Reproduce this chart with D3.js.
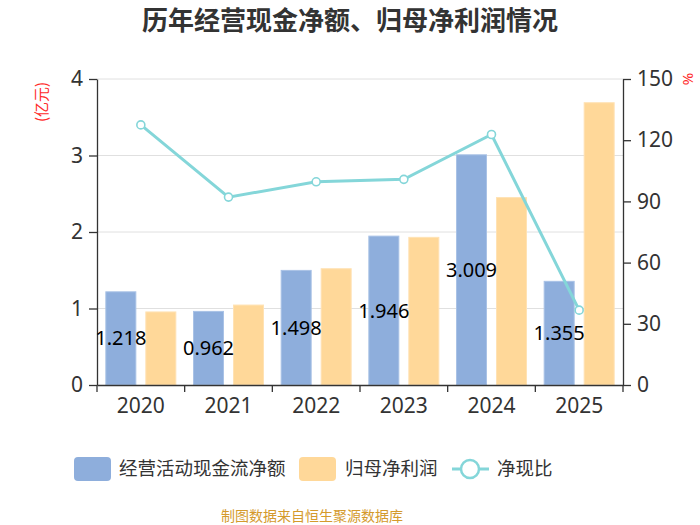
<!DOCTYPE html>
<html>
<head>
<meta charset="utf-8">
<script src="https://cdn.jsdelivr.net/npm/d3@7"></script>
<style>
  body { margin: 0; background: #fff; }
  svg { display: block; font-family: "Noto Sans", "Noto Sans CJK SC", sans-serif; }
</style>
</head>
<body>
<div id="chart"></div>
<script>
// data
var years = ['2020', '2021', '2022', '2023', '2024', '2025']
var cashFlow = [1.218, 0.962, 1.498, 1.946, 3.009, 1.355]   // 经营活动现金流净额 (亿元)
var netProfit = [0.955, 1.045, 1.52, 1.93, 2.45, 3.69]      // 归母净利润 (亿元)
var ratio = [127.5, 92.1, 99.6, 100.8, 122.8, 36.7]         // 净现比 (%)
var leftTicks = [0, 1, 2, 3, 4]
var rightTicks = [0, 30, 60, 90, 120, 150]

var W = 700, H = 525
var margin = { top: 79, right: 77, bottom: 140, left: 97 }
var width = W - margin.left - margin.right,
    height = H - margin.top - margin.bottom

var blue = '#8eaedc', orange = '#ffd899', teal = '#84d6d9'
var font = '"Noto Sans", "Noto Sans CJK SC", sans-serif'

var svg = d3.select('#chart').append('svg')
  .attr('width', W).attr('height', H)

svg.append('text')
  .attr('x', W / 2).attr('y', 30)
  .attr('text-anchor', 'middle')
  .attr('font-family', '"Noto Sans CJK SC", sans-serif')
  .attr('font-size', 26).attr('font-weight', 'bold')
  .attr('fill', '#333')
  .text('历年经营现金净额、归母净利润情况')

var g = svg.append('g')
  .attr('transform', 'translate(' + margin.left + ',' + margin.top + ')')

var x = d3.scaleBand().domain(years).range([0, width])
var y = d3.scaleLinear().domain([0, 4]).range([height, 0])
var y2 = d3.scaleLinear().domain([0, 150]).range([height, 0])

var barW = 30, barGap = 10

// grid
g.selectAll('.grid').data(leftTicks.slice(1)).enter().append('line')
  .attr('x1', 0).attr('x2', width)
  .attr('y1', function(d) { return y(d) }).attr('y2', function(d) { return y(d) })
  .attr('stroke', '#e0e0e0').attr('stroke-width', 1)

// bars
g.selectAll('.bar1').data(cashFlow).enter().append('rect')
  .attr('x', function(d, i) { return x(years[i]) + x.bandwidth() / 2 - barGap / 2 - barW })
  .attr('y', function(d) { return y(d) })
  .attr('width', barW)
  .attr('height', function(d) { return height - y(d) })
  .attr('fill', blue).attr('stroke', '#a9c2e6').attr('stroke-width', 1)

g.selectAll('.bar2').data(netProfit).enter().append('rect')
  .attr('x', function(d, i) { return x(years[i]) + x.bandwidth() / 2 + barGap / 2 })
  .attr('y', function(d) { return y(d) })
  .attr('width', barW)
  .attr('height', function(d) { return height - y(d) })
  .attr('fill', orange).attr('stroke', '#ffe2b4').attr('stroke-width', 1)

// axes
function styleAxis(sel) {
  sel.selectAll('path, line').attr('stroke', '#333').attr('stroke-width', 1.3)
  sel.selectAll('text').attr('fill', '#333').attr('font-size', 21).attr('font-family', font)
}

g.append('g')
  .call(d3.axisLeft(y).tickValues(leftTicks).tickFormat(d3.format('d'))
    .tickSize(8).tickSizeOuter(0).tickPadding(6))
  .call(styleAxis)

g.append('g')
  .attr('transform', 'translate(' + width + ',0)')
  .call(d3.axisRight(y2).tickValues(rightTicks).tickSize(8).tickSizeOuter(0).tickPadding(6))
  .call(styleAxis)

var xAxis = g.append('g')
  .attr('transform', 'translate(0,' + height + ')')
  .call(d3.axisBottom(x).tickSize(0).tickPadding(13))
  .call(styleAxis)
xAxis.selectAll('.bnd').data(years).enter().append('line')
  .attr('x1', function(d, i) { return x.bandwidth() * (i + 1) })
  .attr('x2', function(d, i) { return x.bandwidth() * (i + 1) })
  .attr('y1', 0).attr('y2', 7)
  .attr('stroke', '#333').attr('stroke-width', 1.3)
xAxis.append('line').attr('x1', 0).attr('x2', 0).attr('y1', 0).attr('y2', 7)
  .attr('stroke', '#333').attr('stroke-width', 1.3)

// unit labels
svg.append('text')
  .attr('transform', 'translate(47,102) rotate(-90)')
  .attr('text-anchor', 'middle')
  .attr('font-family', '"Noto Sans CJK SC", sans-serif')
  .attr('font-size', 15).attr('fill', '#ff2a2a')
  .text('(亿元)')
svg.append('text')
  .attr('transform', 'translate(693,79) rotate(-90)')
  .attr('text-anchor', 'middle')
  .attr('font-family', font)
  .attr('font-size', 15).attr('fill', '#ff2a2a')
  .text('%')

// ratio line
var line = d3.line()
  .x(function(d, i) { return x(years[i]) + x.bandwidth() / 2 })
  .y(function(d) { return y2(d) })

g.append('path')
  .datum(ratio)
  .attr('d', line)
  .attr('fill', 'none').attr('stroke', teal).attr('stroke-width', 3)

g.selectAll('.pt').data(ratio).enter().append('circle')
  .attr('cx', function(d, i) { return x(years[i]) + x.bandwidth() / 2 })
  .attr('cy', function(d) { return y2(d) })
  .attr('r', 4)
  .attr('fill', '#fff').attr('stroke', teal).attr('stroke-width', 1.6)

// value labels on blue bars
g.selectAll('.lbl').data(cashFlow).enter().append('text')
  .attr('x', function(d, i) { return x(years[i]) + x.bandwidth() / 2 - barGap / 2 - barW / 2 })
  .attr('y', function(d) { return (y(d) + height) / 2 })
  .attr('dy', '0.35em')
  .attr('text-anchor', 'middle')
  .attr('font-family', font).attr('font-size', 20).attr('fill', '#000')
  .text(function(d) { return d3.format('.3f')(d) })

// legend
var lg = svg.append('g').attr('font-family', '"Noto Sans CJK SC", sans-serif')
lg.append('rect').attr('x', 74).attr('y', 457).attr('width', 37).attr('height', 24).attr('rx', 4)
  .attr('fill', blue)
lg.append('text').attr('x', 119).attr('y', 469).attr('dy', '0.35em')
  .attr('font-size', 18.5).attr('fill', '#333').text('经营活动现金流净额')
lg.append('rect').attr('x', 299).attr('y', 457).attr('width', 37).attr('height', 24).attr('rx', 4)
  .attr('fill', orange)
lg.append('text').attr('x', 345).attr('y', 469).attr('dy', '0.35em')
  .attr('font-size', 18.5).attr('fill', '#333').text('归母净利润')
lg.append('line').attr('x1', 452).attr('x2', 489).attr('y1', 469).attr('y2', 469)
  .attr('stroke', teal).attr('stroke-width', 3)
lg.append('circle').attr('cx', 470).attr('cy', 469).attr('r', 9)
  .attr('fill', '#fff').attr('stroke', teal).attr('stroke-width', 2.5)
lg.append('text').attr('x', 497).attr('y', 469).attr('dy', '0.35em')
  .attr('font-size', 18.5).attr('fill', '#333').text('净现比')

// footer
svg.append('text')
  .attr('x', 312).attr('y', 516).attr('dy', '0.35em')
  .attr('text-anchor', 'middle')
  .attr('font-family', '"Noto Sans CJK SC", sans-serif')
  .attr('font-size', 14).attr('fill', '#d49a2c')
  .text('制图数据来自恒生聚源数据库')
</script>
</body>
</html>
